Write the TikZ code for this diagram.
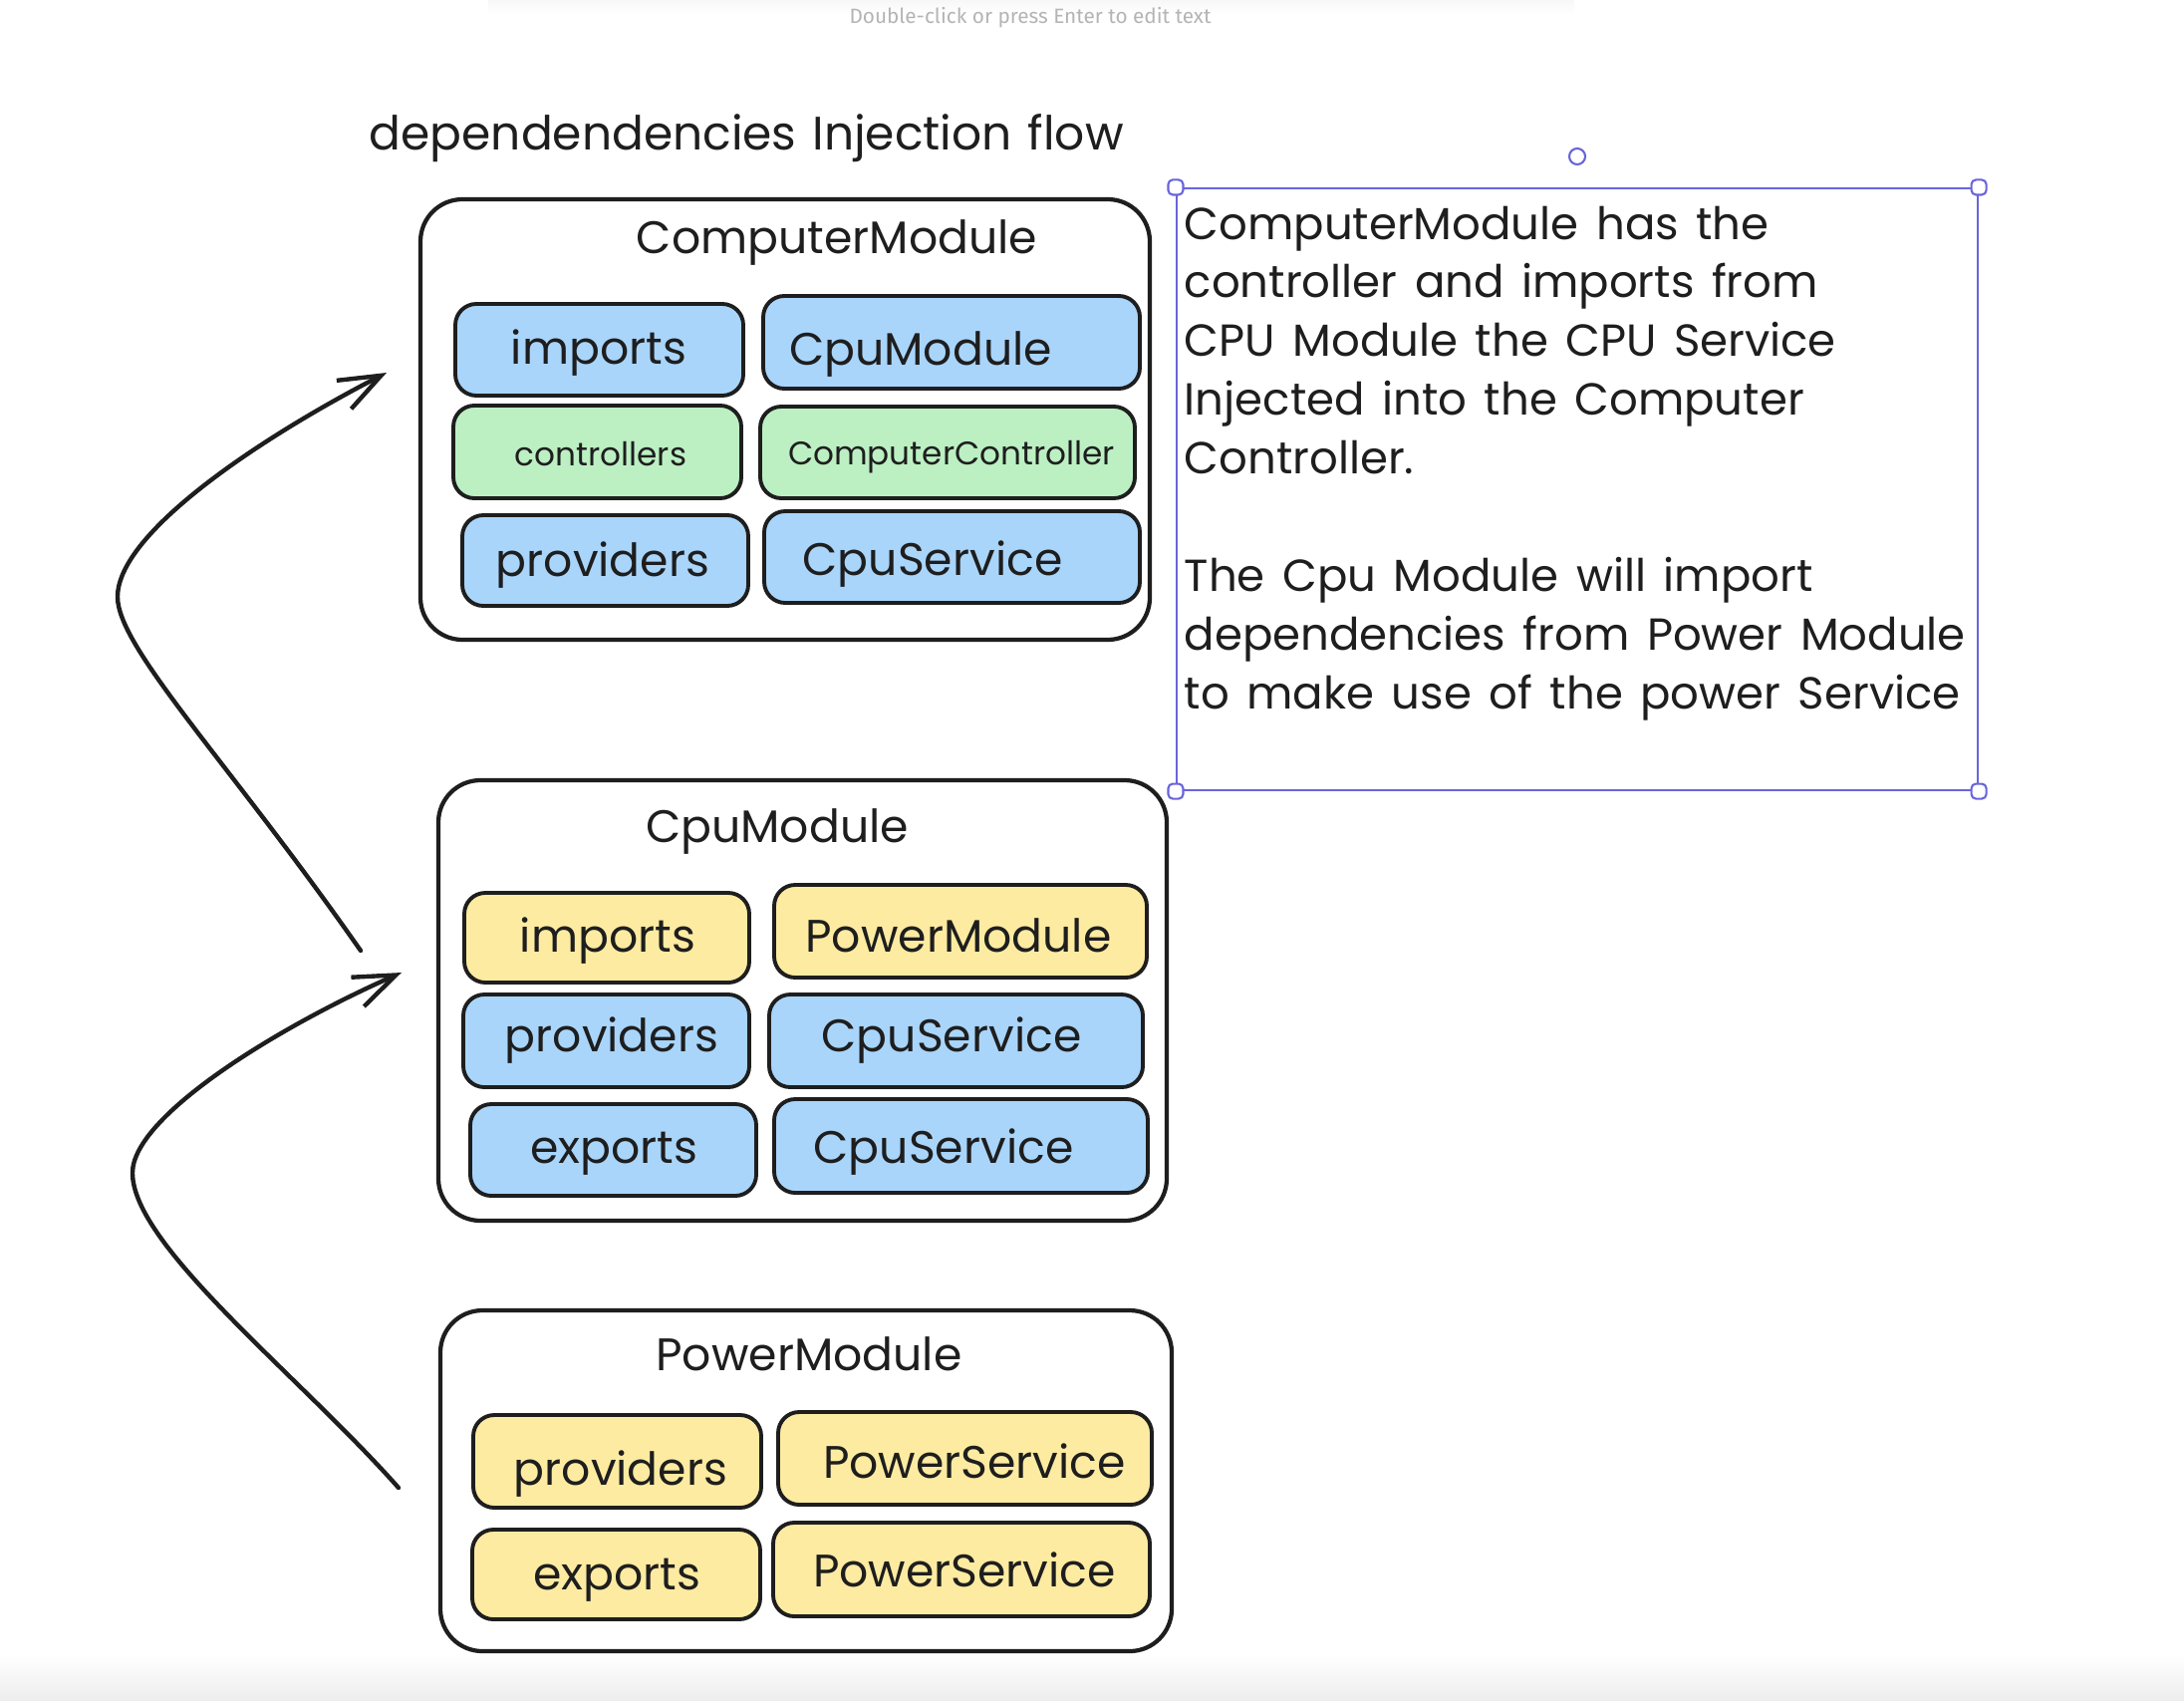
\documentclass[tikz,border=0pt]{standalone}
\usepackage{fontspec}
\setmainfont{Poppins}
\newfontfamily\uifont{Fira Sans}
\usetikzlibrary{arrows.meta,fit}
\definecolor{ink}{HTML}{1E1E1E}
\definecolor{sblue}{HTML}{A9D5FB}
\definecolor{sgreen}{HTML}{BCF0C3}
\definecolor{syellow}{HTML}{FDEBA1}
\definecolor{sel}{HTML}{6965DB}
\definecolor{uigray}{HTML}{B4B4B4}
\newcommand\titlefont{\fontsize{13.4}{15}\selectfont\spaceskip=0.34em\relax}
\newcommand\notesfont{\fontsize{12.8}{15}\selectfont\spaceskip=0.39em plus 0.1em\relax}
% #1 name, #2 style, #3-#6 box corners, #7 text x, #8 text baseline y, #9 text, then text style
\newcommand\mkcell[9]{%
  \node[#2, fit={(#3,#4) (#5,#6)}] (#1) {};
  \mkcelltext{#1}{#7}{#8}{#9}}
\newcommand\mkcelltext[5]{\node[#5] (#1t) at (#2,#3) {#4};}
\begin{document}
\begin{tikzpicture}[x=0.01cm,y=-0.01cm,
  modbox/.style={draw=ink, line width=1.2pt, rounded corners=12pt, inner sep=0pt, fill=white},
  cellbase/.style={draw=ink, line width=1.1pt, rounded corners=6pt, inner sep=0pt},
  bluecell/.style={cellbase, fill=sblue},
  greencell/.style={cellbase, fill=sgreen},
  yellowcell/.style={cellbase, fill=syellow},
  lab/.style={font=\fontsize{13}{15}\selectfont, text=ink, anchor=base, inner sep=0pt},
  smalllab/.style={lab, font=\fontsize{9.3}{11}\selectfont},
  notes/.style={font=\notesfont, text=ink, anchor=base west, inner sep=0pt},
  handle/.style={draw=sel, fill=white, line width=0.6pt, rounded corners=1.3pt, minimum size=0.15cm, inner sep=0pt},
  flow/.style={draw=ink, line width=1.25pt, line cap=round, -{Straight Barb[length=0.42cm, width=0.32cm, line width=1.25pt]}}
]
\useasboundingbox (0,0) rectangle (2192,1706);
\fill[white] (0,0) rectangle (2192,1706);
% top toolbar shadow and bottom band
\shade[top color=black!3, bottom color=white] (490,0) rectangle (1580,14);
\shade[top color=white, bottom color=black!7] (0,1660) rectangle (2192,1706);
\node[font=\uifont\fontsize{5.9}{7}\selectfont, text=uigray, anchor=base, inner sep=0pt] (hint) at (1034,24) {Double-click or press Enter to edit text};

% title
\node[lab, anchor=base west, font=\titlefont] (title) at (370,150) {dependendencies Injection flow};

% ComputerModule
\node[modbox, fit={(422,200) (1154,642)}] (cm) {};
\node[lab] (cmT) at (840,254) {ComputerModule};
\mkcell{cm1a}{bluecell}{457}{305}{746}{397}{601}{365}{imports}{lab}
\mkcell{cm1b}{bluecell}{766}{297}{1144}{390}{924}{366}{CpuModule}{lab}
\mkcell{cm2a}{greencell}{455}{407}{744}{500}{603}{467}{controllers}{smalllab}
\mkcell{cm2b}{greencell}{763}{408}{1139}{500}{955}{466}{ComputerController}{smalllab}
\mkcell{cm3a}{bluecell}{464}{517}{751}{608}{605}{578}{providers}{lab}
\mkcell{cm3b}{bluecell}{767}{513}{1144}{605}{936}{577}{CpuService}{lab}

% CpuModule
\node[modbox, fit={(440,783) (1171,1225)}] (cpu) {};
\node[lab] (cpuT) at (780,845) {CpuModule};
\mkcell{cp1a}{yellowcell}{466}{896}{752}{986}{610}{955}{imports}{lab}
\mkcell{cp1b}{yellowcell}{777}{888}{1151}{981}{962}{955}{PowerModule}{lab}
\mkcell{cp2a}{bluecell}{465}{998}{752}{1091}{614}{1055}{providers}{lab}
\mkcell{cp2b}{bluecell}{772}{998}{1147}{1091}{955}{1055}{CpuService}{lab}
\mkcell{cp3a}{bluecell}{472}{1108}{759}{1200}{616}{1167}{exports}{lab}
\mkcell{cp3b}{bluecell}{777}{1103}{1152}{1197}{947}{1167}{CpuService}{lab}

% PowerModule
\node[modbox, fit={(442,1315) (1176,1657)}] (pw) {};
\node[lab] (pwT) at (812,1375) {PowerModule};
\mkcell{pw1a}{yellowcell}{475}{1420}{764}{1513}{623}{1490}{providers}{lab}
\mkcell{pw1b}{yellowcell}{781}{1417}{1156}{1510}{978}{1483}{PowerService}{lab}
\mkcell{pw2a}{yellowcell}{474}{1535}{763}{1625}{619}{1595}{exports}{lab}
\mkcell{pw2b}{yellowcell}{776}{1528}{1154}{1622}{968}{1592}{PowerService}{lab}

% selected text box
\node[draw=sel, line width=0.6pt, inner sep=0pt, fit={(1181,189) (1985,793)}] (selbox) {};
\node[handle] (h1) at (selbox.north west) {};
\node[handle] (h2) at (selbox.north east) {};
\node[handle] (h3) at (selbox.south west) {};
\node[handle] (h4) at (selbox.south east) {};
\node[draw=sel, fill=white, line width=0.6pt, circle, minimum size=0.16cm, inner sep=0pt] (rot) at (1583,157) {};
\foreach \n/\t in {1/ComputerModule has the, 2/controller and imports from, 3/CPU Module the CPU Service, 4/Injected into the Computer, 5/Controller., 7/The Cpu Module will import, 8/dependencies from Power Module, 9/to make use of the power Service}
  \node[notes] (line\n) at (1188,{240+(\n-1)*58.9}) {\t};

% arrows
\coordinate (a1s) at (362,954);
\coordinate (a1m) at (118,599);
\coordinate (a1e) at (388,374);
\draw[flow] (a1s) .. controls (230,765) and (118,650) .. (a1m) .. controls (118,535) and (260,440) .. (a1e);
\coordinate (a2s) at (400,1493);
\coordinate (a2m) at (133,1177);
\coordinate (a2e) at (403,976);
\draw[flow] (a2s) .. controls (300,1380) and (133,1250) .. (a2m) .. controls (133,1120) and (280,1030) .. (a2e);
\end{tikzpicture}
\end{document}
